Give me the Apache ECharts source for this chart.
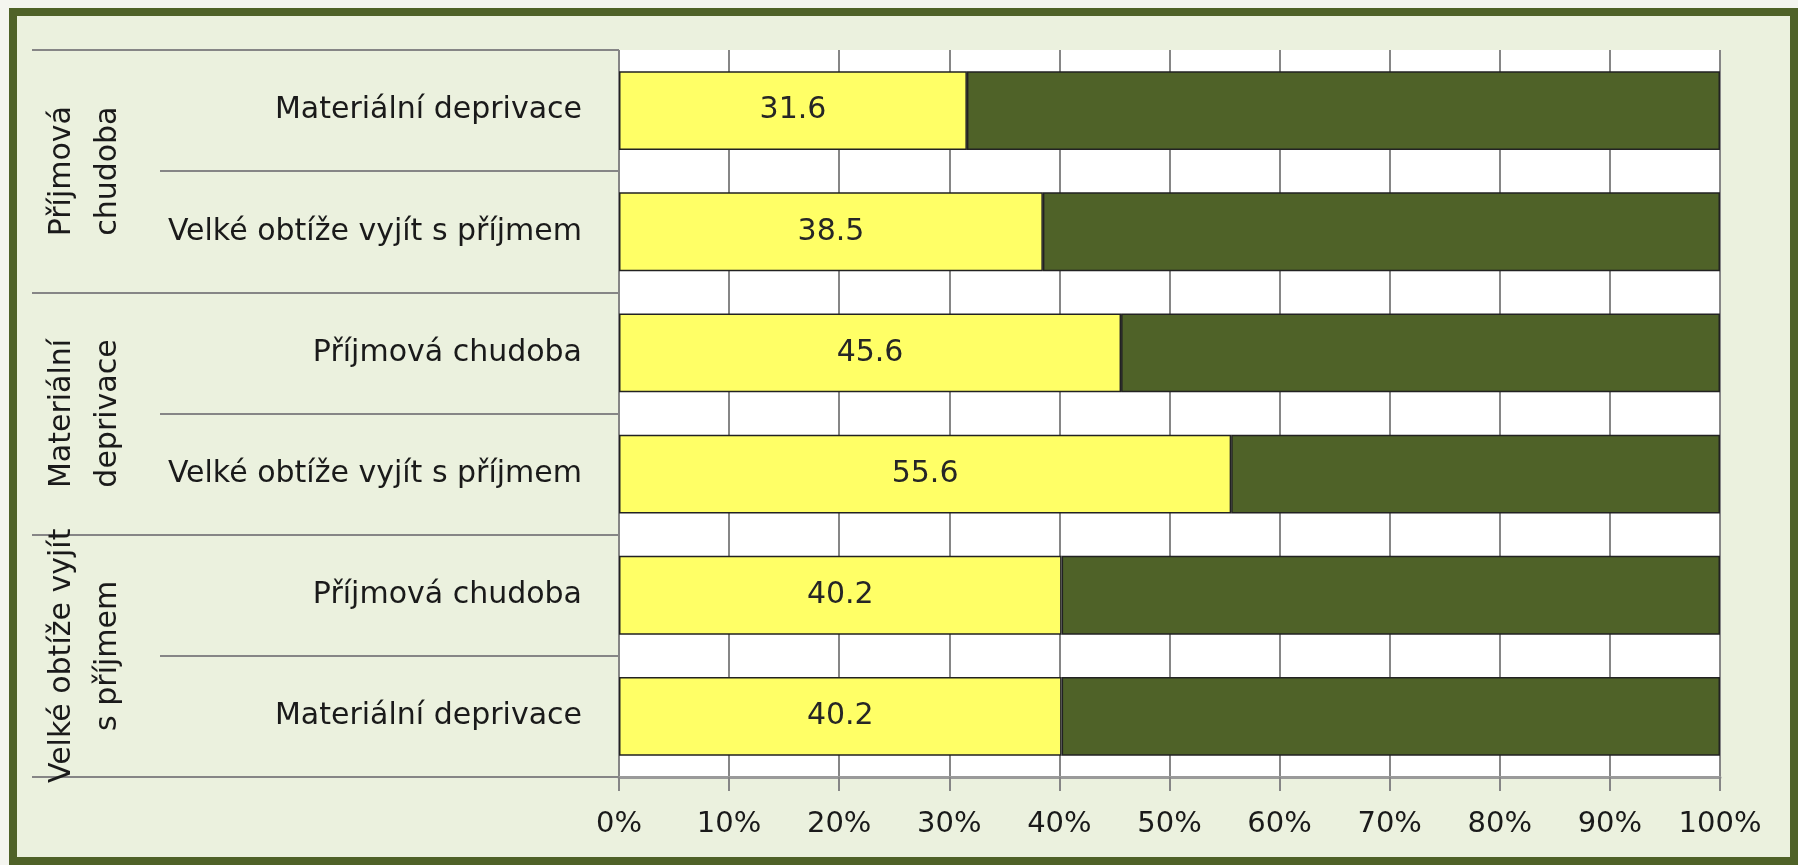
<!DOCTYPE html>
<html>
<head>
<meta charset="utf-8">
<script src="https://cdn.jsdelivr.net/npm/echarts@6/dist/echarts.min.js"></script>
<style>
  html, body { margin: 0; padding: 0; background: #f4f5ef; }
  #frame {
    position: absolute; left: 9px; top: 8px; width: 1789px; height: 857px;
    box-sizing: border-box; border: 8px solid #4f6228; background: #ebf1de;
  }
  #chart { position: absolute; left: 0; top: 0; width: 1798px; height: 865px; }
</style>
</head>
<body>
<div id="frame"></div>
<div id="chart"></div>
<script>
// outer groups (rotated labels) and inner categories, top to bottom
const groups = ['Příjmová\nchudoba', 'Materiální\ndeprivace', 'Velké obtíže vyjít\ns příjmem'];
const categories = [
  'Materiální deprivace',
  'Velké obtíže vyjít s příjmem',
  'Příjmová chudoba',
  'Velké obtíže vyjít s příjmem',
  'Příjmová chudoba',
  'Materiální deprivace'
];
// yellow part (labelled) and the remaining share to 100 %
const shareYes = [31.6, 38.5, 45.6, 55.6, 40.2, 40.2];
const shareRest = [68.4, 61.5, 54.4, 44.4, 59.8, 59.8];

const font = 'DejaVu Sans';
const lineGrey = '#868686';

const chart = echarts.init(document.getElementById('chart'));

const option = {
  backgroundColor: 'transparent',
  animation: false,
  grid: {
    left: 619, right: 78, top: 50, bottom: 88,
    show: true, backgroundColor: '#ffffff', borderWidth: 0
  },
  xAxis: {
    type: 'value',
    min: 0, max: 100, interval: 10,
    axisLine: { show: true, lineStyle: { color: '#9a9a9a', width: 3 } },
    axisTick: { show: true, length: 14, lineStyle: { color: lineGrey, width: 2 } },
    axisLabel: {
      formatter: '{value}%', margin: 33,
      fontFamily: font, fontSize: 29, color: '#1a1a1a'
    },
    splitLine: { show: true, lineStyle: { color: lineGrey, width: 2 } }
  },
  yAxis: [
    {
      type: 'category',
      data: categories,
      inverse: true,
      position: 'left',
      axisLine: { show: false },
      axisTick: { show: true, length: 459, lineStyle: { color: lineGrey, width: 2 } },
      axisLabel: {
        interval: 0, margin: 37,
        fontFamily: font, fontSize: 30, color: '#1a1a1a'
      }
    },
    {
      type: 'category',
      data: groups,
      inverse: true,
      position: 'left',
      axisLine: { show: false },
      axisTick: { show: true, length: 587, lineStyle: { color: lineGrey, width: 2 } },
      axisLabel: {
        interval: 0, rotate: 90, margin: 488,
        fontFamily: font, fontSize: 30, lineHeight: 46, color: '#1a1a1a'
      }
    }
  ],
  series: [
    {
      type: 'bar',
      stack: 'total',
      data: shareYes,
      barCategoryGap: '35%',
      itemStyle: { color: '#ffff66', borderColor: '#222222', borderWidth: 1.5 },
      label: {
        show: true, position: 'inside',
        formatter: p => p.value.toFixed(1),
        fontFamily: font, fontSize: 30, color: '#262626'
      }
    },
    {
      type: 'bar',
      stack: 'total',
      data: shareRest,
      barCategoryGap: '35%',
      itemStyle: { color: '#4f6228', borderColor: '#222222', borderWidth: 1.5 }
    }
  ]
};

chart.setOption(option);
</script>
</body>
</html>
